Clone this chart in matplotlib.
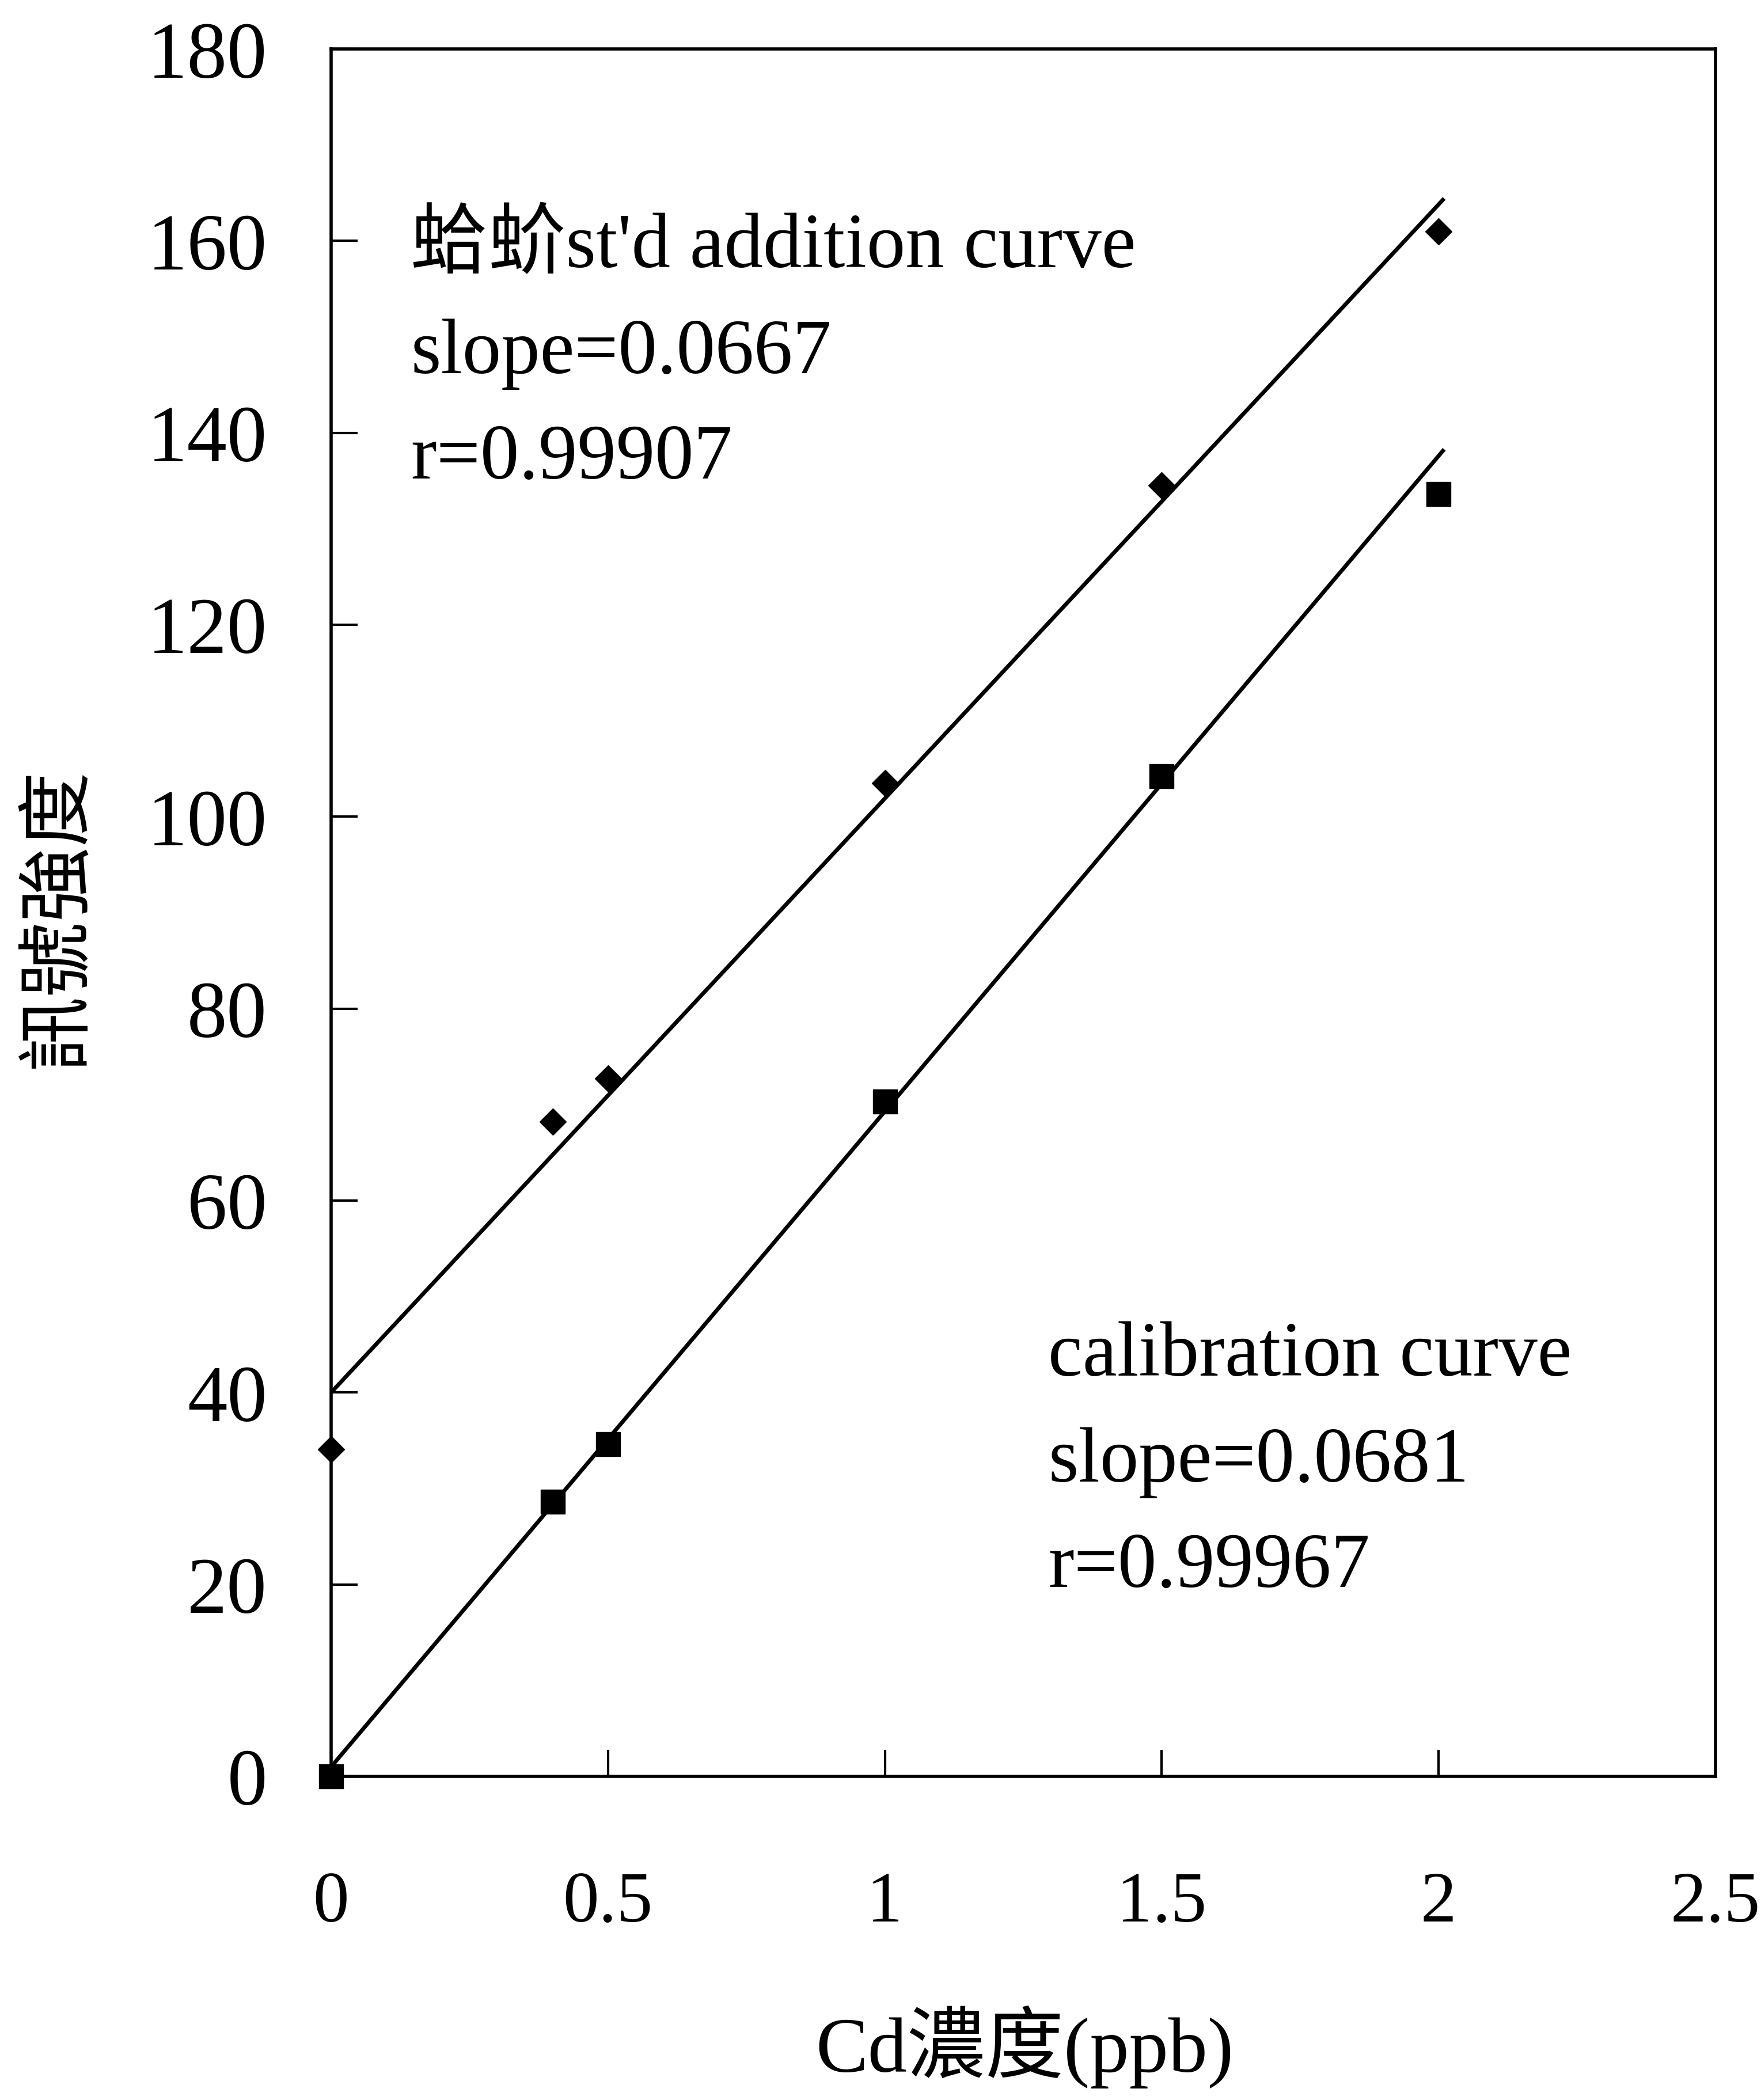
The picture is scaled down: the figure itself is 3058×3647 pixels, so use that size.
import numpy as np
import matplotlib
matplotlib.use("Agg")
import matplotlib.pyplot as plt

plt.rcParams["font.family"] = ["Liberation Serif", "Noto Sans CJK TC", "DejaVu Sans"]

# Cd concentration (ppb)
conc = [0.0, 0.4, 0.5, 1.0, 1.5, 2.0]
# signal intensity, standard addition in the sample
std_add_signal = [34.1, 68.2, 72.7, 103.5, 134.5, 161.0]
# signal intensity, calibration standards
calib_signal = [0.0, 28.6, 34.6, 70.3, 104.2, 133.6]

# trend lines (slope, intercept) as drawn on the chart
std_add_fit = (61.9, 40.0)
calib_fit = (68.3, 1.0)
fit_range = [0.0, 2.01]

std_add_text = ["蛤蚧st'd addition curve", "slope=0.0667", "r=0.99907"]
calib_text = ["calibration curve", "slope=0.0681", "r=0.99967"]

xticks = [0, 0.5, 1, 1.5, 2, 2.5]
xtick_labels = ["0", "0.5", "1", "1.5", "2", "2.5"]
yticks = list(range(0, 181, 20))

W, H = 3058, 3648
fig = plt.figure(figsize=(W / 100, H / 100), dpi=100)
ax = fig.add_axes([575 / W, 1 - 3086 / H, (2979 - 575) / W, (3086 - 86) / H])

xs = np.array(fit_range)
for slope, icpt in (std_add_fit, calib_fit):
    ax.plot(xs, slope * xs + icpt, color="black", lw=5.0, solid_capstyle="butt", zorder=2)

ax.plot(conc, std_add_signal, ls="none", marker="D", ms=23, color="black",
        clip_on=False, zorder=3)
ax.plot(conc, calib_signal, ls="none", marker="s", ms=30, color="black",
        clip_on=False, zorder=3)

ax.set_xlim(0, 2.5)
ax.set_ylim(0, 180)
ax.set_xticks(xticks)
ax.set_xticklabels(xtick_labels)
ax.set_yticks(yticks)

for sp in ax.spines.values():
    sp.set_linewidth(4.0)
    sp.set_color("black")

ax.tick_params(axis="both", direction="in", length=33, width=3, colors="black")
ax.tick_params(axis="y", pad=80, labelsize=100)
ax.tick_params(axis="x", pad=118, labelsize=90)

# fit annotations
for i, s in enumerate(std_add_text):
    ax.text(0.144, 157.3 - 11.0 * i, s, fontsize=97, ha="left", va="baseline")
for i, s in enumerate(calib_text):
    ax.text(1.295, 41.8 - 11.0 * i, s, fontsize=97, ha="left", va="baseline")

fig.text(1779 / W, 1 - 3555 / H, "Cd濃度(ppb)", fontsize=98, ha="center", va="center")
fig.text(100 / W, 1 - 1594 / H, "訊號強度", fontsize=94, rotation=90,
         ha="center", va="center", family=["Noto Sans CJK TC"])

fig.savefig("out.png", dpi=100, facecolor="white")
